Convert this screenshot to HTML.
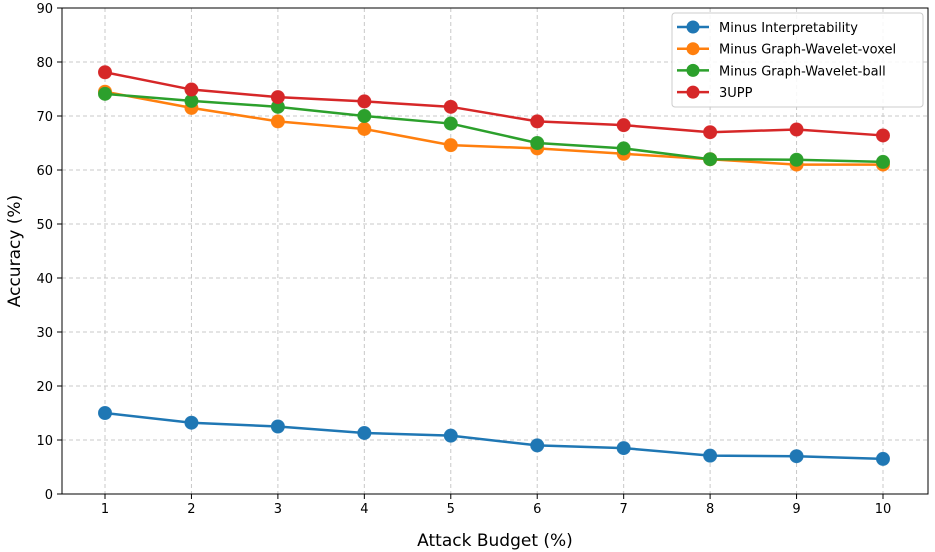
<!DOCTYPE html>
<html><head><meta charset="utf-8"><style>
body{margin:0;background:#fff}
svg{display:block;font-family:"DejaVu Sans","Liberation Sans",sans-serif}
</style></head><body>
<svg id="chart" width="935" height="552"></svg>
<script>
const categories=[1,2,3,4,5,6,7,8,9,10];
const yTicks=[0,10,20,30,40,50,60,70,80,90];
const seriesNames=["Minus Interpretability","Minus Graph-Wavelet-voxel","Minus Graph-Wavelet-ball","3UPP"];
const interp=[15.0,13.2,12.5,11.3,10.8,9.0,8.5,7.1,7.0,6.5];
const voxel=[74.5,71.5,69.0,67.6,64.6,64.0,63.0,62.0,61.0,61.0];
const ball=[74.1,72.8,71.7,70.0,68.6,65.0,64.0,62.0,61.9,61.5];
const upp=[78.1,74.9,73.5,72.7,71.7,69.0,68.3,67.0,67.5,66.4];
const series=[interp,voxel,ball,upp];
const colors=["#1f77b4","#ff7f0e","#2ca02c","#d62728"];
const svg=document.getElementById('chart');
const NS="http://www.w3.org/2000/svg";
const L=62,R=928,T=8,B=494;
const x=v=>105+(v-1)*(883-105)/9;
const y=v=>B-(v/90)*(B-T);
function mk(tag,attrs,parent){const e=document.createElementNS(NS,tag);for(const k in attrs)e.setAttribute(k,attrs[k]);(parent||svg).appendChild(e);return e;}
const grid=mk('g',{});


categories.forEach(c=>{
  mk('line',{x1:x(c),x2:x(c),y1:T,y2:B,stroke:'#c8c8c8','stroke-dasharray':'4,3','stroke-width':1},grid);
  mk('line',{x1:x(c),x2:x(c),y1:B,y2:B+5,stroke:'#000','stroke-width':1},grid);
  const t=mk('text',{x:x(c),y:B+19,'text-anchor':'middle','font-size':13});
  t.textContent=c;
  
  
});
yTicks.forEach(v=>{
  mk('line',{x1:L,x2:R,y1:y(v),y2:y(v),stroke:'#c8c8c8','stroke-dasharray':'4,3','stroke-width':1},grid);
  mk('line',{x1:L-5,x2:L,y1:y(v),y2:y(v),stroke:'#000','stroke-width':1},grid);
  const t=mk('text',{x:L-9,y:y(v)+5,'text-anchor':'end','font-size':13});
  t.textContent=v;
  
  
});
series.forEach((s,i)=>{
  const g=mk('g',{});
  
  
  mk('polyline',{points:s.map((v,j)=>x(categories[j])+','+y(v)).join(' '),fill:'none',stroke:colors[i],'stroke-width':2.5},g);
  s.forEach((v,j)=>{
    const c=mk('circle',{cx:x(categories[j]),cy:y(v),r:6.5,fill:colors[i],stroke:colors[i],'stroke-opacity':0.9},g);
    
    
  });
});
const frame=mk('rect',{x:L,y:T,width:R-L,height:B-T,fill:'none',stroke:'#000','stroke-width':1});


const xt=mk('text',{x:(L+R)/2,y:546,'text-anchor':'middle','font-size':17});
xt.textContent='Attack Budget (%)';


const yt=mk('text',{x:0,y:0,'text-anchor':'middle','font-size':17,transform:'translate(20,251) rotate(-90)'});
yt.textContent='Accuracy (%)';


const lg=mk('g',{});


mk('rect',{x:672,y:13,width:251,height:94,rx:3,fill:'#fff','fill-opacity':0.85,stroke:'#ccc'},lg);
seriesNames.forEach((n,i)=>{
  const yy=27+i*21.7;
  const e=mk('g',{},lg);
  
  
  mk('line',{x1:677,x2:709,y1:yy,y2:yy,stroke:colors[i],'stroke-width':2.5},e);
  mk('circle',{cx:693,cy:yy,r:6.5,fill:colors[i]},e);
  const t=mk('text',{x:719,y:yy+5,'font-size':13},e);
  t.textContent=n;
});
</script>
</body></html>
